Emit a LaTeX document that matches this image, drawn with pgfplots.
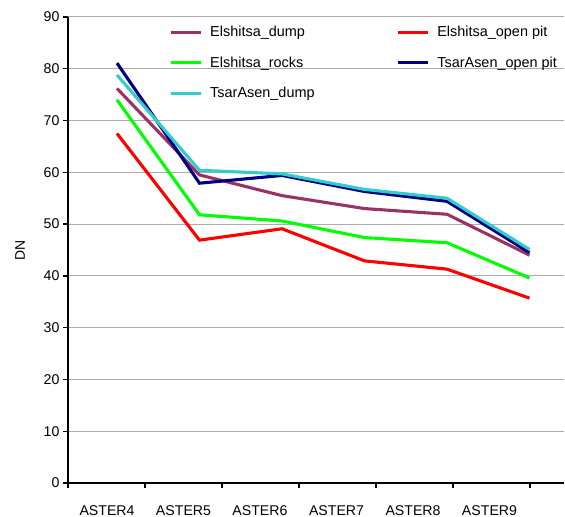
\documentclass[border=0pt]{standalone}
\usepackage{pgfplots}
\pgfplotsset{compat=1.18}
\usepackage{fontspec}
\setmainfont{Liberation Sans}
\definecolor{cdump}{HTML}{993366}
\definecolor{copen}{HTML}{FF0000}
\definecolor{crocks}{HTML}{00FF00}
\definecolor{ctopen}{HTML}{000080}
\definecolor{ctdump}{HTML}{33CCCC}
\pgfplotsset{layers/mylayers/.define layer set={axis background,axis grid,legendbg,axis ticks,axis lines,axis tick labels,pre main,main,axis descriptions,axis foreground}{}}
\begin{document}
\begin{tikzpicture}
\begin{axis}[
  name=ax,
  set layers=mylayers,
  clip=false,
  scale only axis,
  width=496bp, height=466bp,
  xmin=-0.594, xmax=5.418,
  ymin=0, ymax=90,
  axis x line=bottom, axis y line=left,
  axis line style={-, line width=1.6bp, black},
  ytick={0,10,...,90},
  ymajorgrids,
  major grid style={gray!65, line width=1bp},
  xtick={-0.121,0.806,1.733,2.661,3.588,4.515},
  xticklabels={ASTER4,ASTER5,ASTER6,ASTER7,ASTER8,ASTER9},
  minor xtick={-0.594,0.339,1.273,2.206,3.139,4.073,5.006},
  tick align=outside,
  major tick length=5bp,
  minor tick length=5bp,
  x tick style={draw=none},
  minor x tick style={draw=black, line width=1.6bp},
  y tick style={black, line width=1.4bp},
  xminorgrids=false,
  tick label style={font=\fontsize{14.2}{16}\selectfont},
  xticklabel style={yshift=-14bp},
  /pgf/number format/assume math mode=true,
  ylabel={DN},
  ylabel style={at={(axis description cs:-0.0968,0.5)}, anchor=center, font=\fontsize{14}{16}\selectfont},
  legend columns=2,
  legend cell align=left,
  legend image code/.code={\draw[#1] (0bp,0bp) -- (30bp,0bp);},
  legend style={draw=none, fill=none, inner xsep=33bp, inner ysep=12bp,
    at={(0.137,1.0096)}, anchor=north west,
    font=\fontsize{14.5}{16}\selectfont,
    cells={anchor=west, inner sep=0pt, text height=10bp, text depth=3bp},
    row sep=15bp,
    /tikz/every odd column/.append style={column sep=6bp}},
  every axis plot/.append style={line width=3.1bp},
]
\begin{pgfonlayer}{legendbg}
\fill[white] (axis cs:0.279,72) rectangle (axis cs:5.418,92);
\end{pgfonlayer}
\addplot[cdump] coordinates {(0,76.2) (1,59.5) (2,55.5) (3,53.0) (4,51.9) (5,44.0)};
\addlegendentry{\makebox[184bp][l]{Elshitsa\_dump}}
\addplot[copen] coordinates {(0,67.5) (1,46.9) (2,49.1) (3,42.9) (4,41.3) (5,35.7)};
\addlegendentry{Elshitsa\_open pit}
\addplot[crocks] coordinates {(0,74.0) (1,51.8) (2,50.6) (3,47.4) (4,46.4) (5,39.6)};
\addlegendentry{\makebox[184bp][l]{Elshitsa\_rocks}}
\addplot[ctopen] coordinates {(0,81.1) (1,57.9) (2,59.4) (3,56.3) (4,54.4) (5,44.5)};
\addlegendentry{TsarAsen\_open pit}
\addplot[ctdump] coordinates {(0,78.8) (1,60.4) (2,59.7) (3,56.7) (4,55.0) (5,45.1)};
\addlegendentry{\makebox[184bp][l]{TsarAsen\_dump}}
\end{axis}
\pgfresetboundingbox
\path ([shift={(-68bp,-34bp)}]ax.south west) rectangle ([shift={(1bp,17bp)}]ax.north east);
\end{tikzpicture}
\end{document}
